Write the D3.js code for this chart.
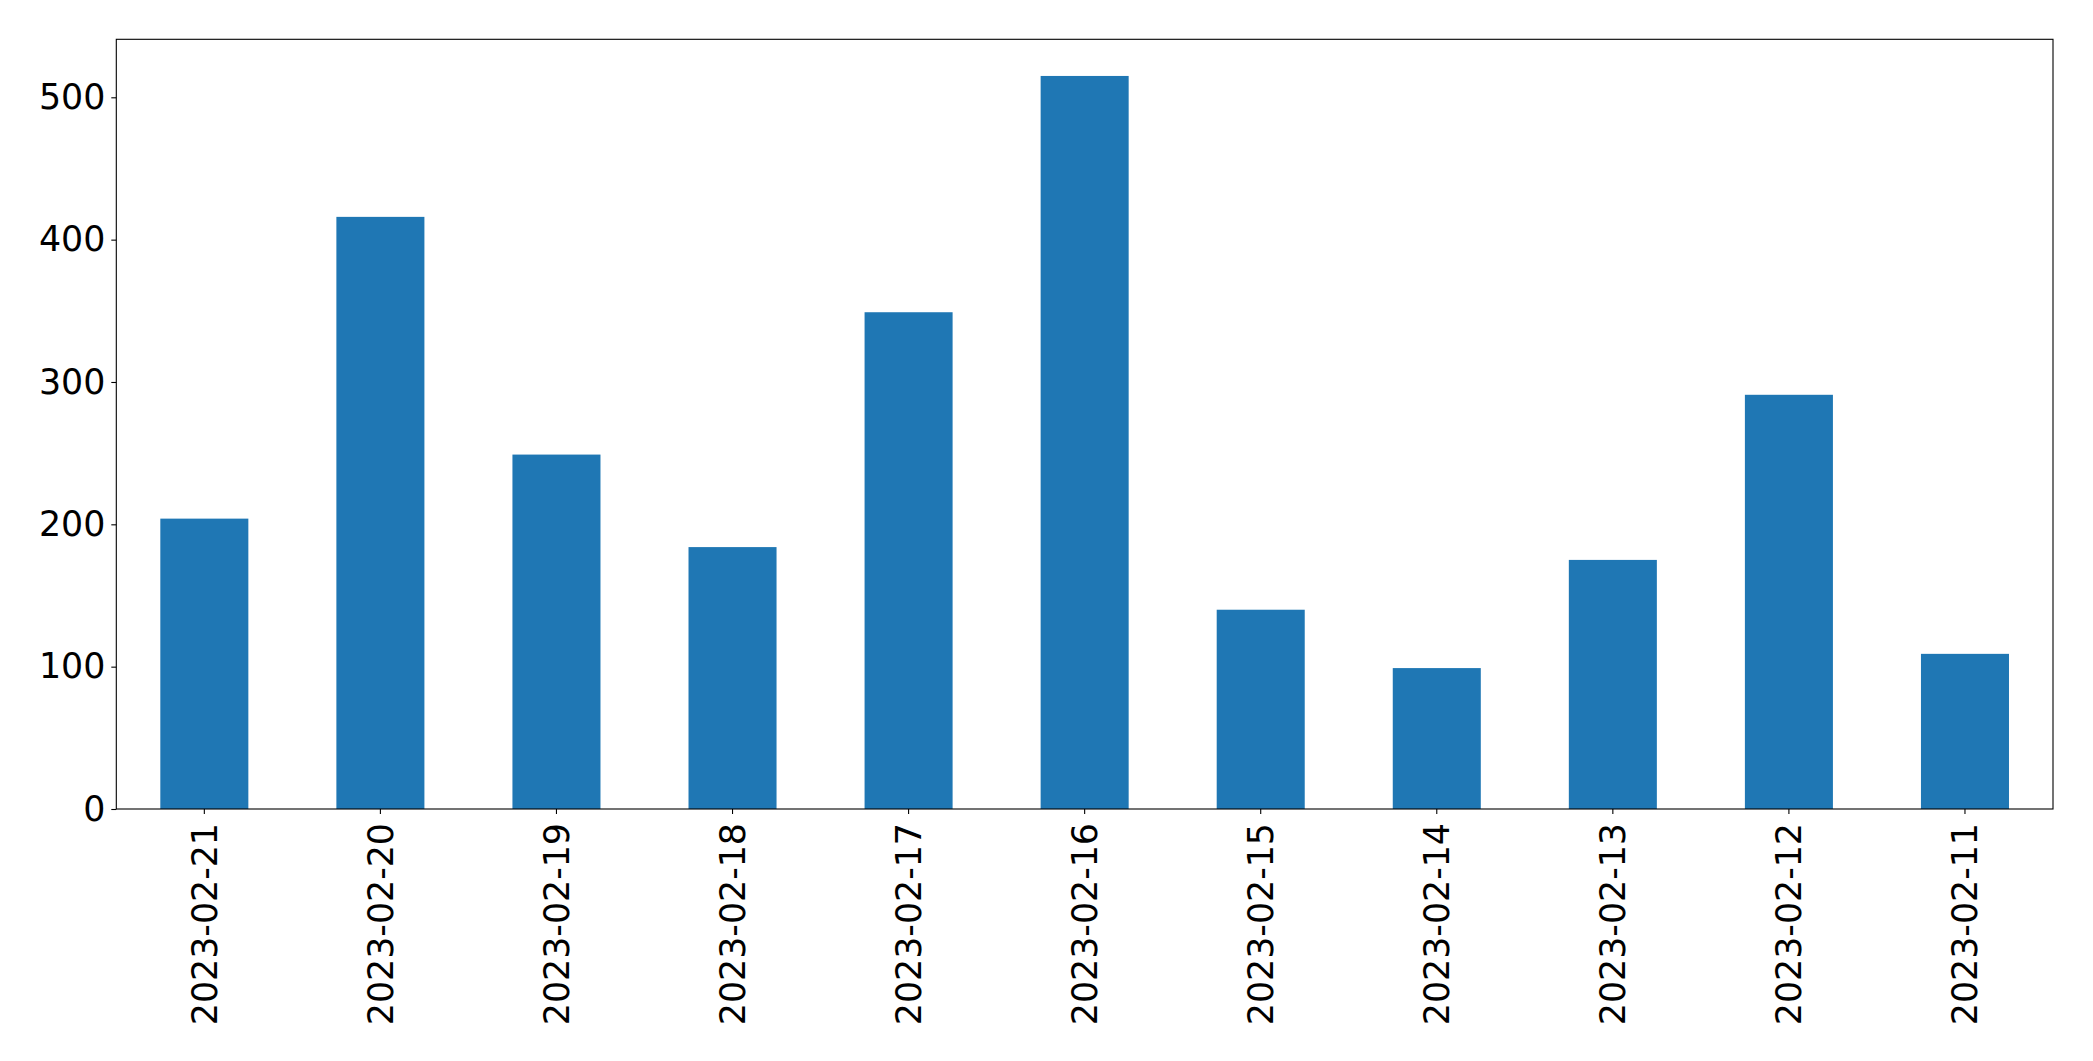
<!DOCTYPE html>
<html>
<head>
<meta charset="utf-8">
<script src="https://cdn.jsdelivr.net/npm/d3@7"></script>
<style>
  body { margin: 0; background: #fff; }
  svg text { font-family: "DejaVu Sans", sans-serif; fill: #000; }
</style>
</head>
<body>
<div id="bar_chart"></div>
<script>
// Data
var dates = ["2023-02-21", "2023-02-20", "2023-02-19", "2023-02-18", "2023-02-17", "2023-02-16",
             "2023-02-15", "2023-02-14", "2023-02-13", "2023-02-12", "2023-02-11"];
var counts = [204, 416, 249, 184, 349, 515, 140, 99, 175, 291, 109];
var yTicks = [0, 100, 200, 300, 400, 500];

var w = 2093, h = 1061;
var margin = {top: 39.3, right: 40, bottom: 252, left: 116.3};
var width = w - margin.left - margin.right,
    height = h - margin.top - margin.bottom;
var fontSize = "34.8px";

var svg = d3.select("#bar_chart")
    .append("svg")
    .attr("width", w)
    .attr("height", h);

var g = svg.append("g")
    .attr("transform", "translate(" + margin.left + "," + margin.top + ")");

// scales
var x = d3.scaleBand().domain(dates).range([0, width]).paddingInner(0.5).paddingOuter(0.25);
var y = d3.scaleLinear().domain([0, d3.max(counts) * 1.05]).range([height, 0]);

// bars
g.selectAll("rect.bar")
    .data(dates)
    .enter().append("rect")
    .attr("class", "bar")
    .attr("x", function(d) { return x(d); })
    .attr("width", x.bandwidth())
    .attr("y", function(d, i) { return y(counts[i]); })
    .attr("height", function(d, i) { return height - y(counts[i]); })
    .style("fill", "#1f77b4");

// axes
var xAxis = d3.axisBottom(x).tickSize(5).tickPadding(6);
var yAxis = d3.axisLeft(y).tickValues(yTicks).tickSize(5).tickPadding(6);

var gx = g.append("g")
    .attr("transform", "translate(0," + height + ")")
    .call(xAxis);
gx.select(".domain").remove();
gx.selectAll("line").attr("stroke", "#000").attr("stroke-width", 1.1);
gx.selectAll("text")
    .style("font-size", fontSize)
    .attr("text-anchor", "end")
    .attr("dy", "0.35em")
    .attr("x", 0)
    .attr("y", 0)
    .attr("transform", "translate(0,14) rotate(-90)");

var gy = g.append("g").call(yAxis);
gy.select(".domain").remove();
gy.selectAll("line").attr("stroke", "#000").attr("stroke-width", 1.1);
gy.selectAll("text").style("font-size", fontSize);

// frame
g.append("rect")
    .attr("width", width)
    .attr("height", height)
    .style("fill", "none")
    .style("stroke", "#000")
    .style("stroke-width", 1.1);
</script>
</body>
</html>
